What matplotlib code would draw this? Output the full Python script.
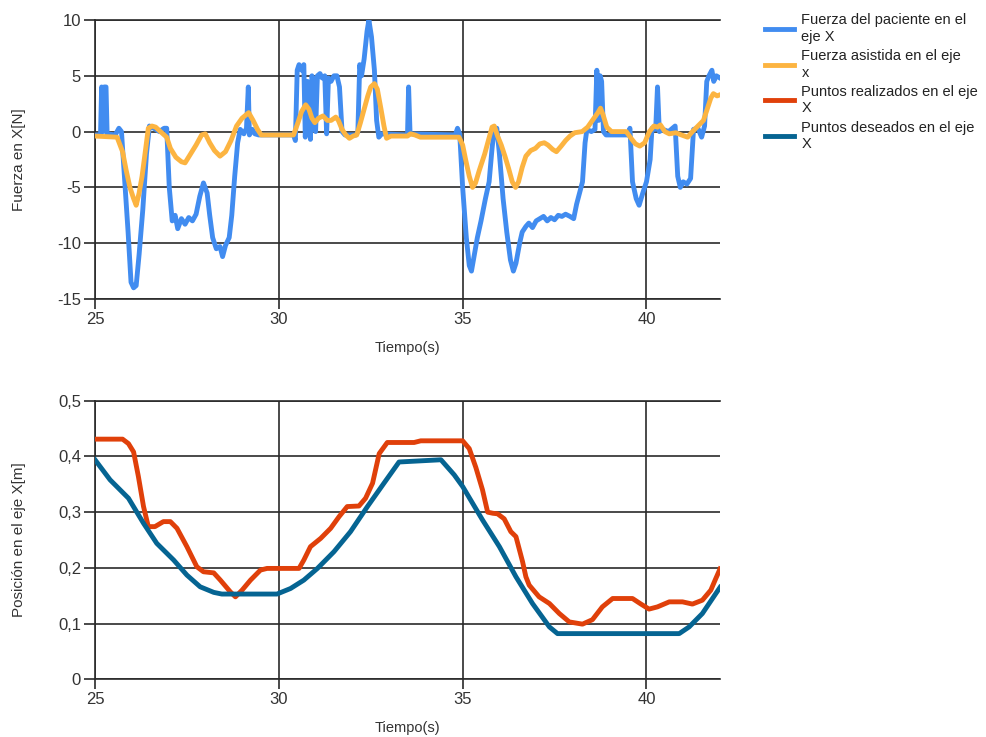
import matplotlib
matplotlib.use("Agg")
import matplotlib.pyplot as plt
from matplotlib.ticker import FixedLocator, FixedFormatter

plt.rcParams["font.family"] = ["Liberation Sans", "DejaVu Sans"]

# --- data ---
t_paciente = [
    25.00, 25.15, 25.18, 25.22, 25.25, 25.30, 25.33, 25.55, 25.65, 25.72,
    25.80, 25.90, 25.98, 26.05, 26.12, 26.20, 26.30, 26.40, 26.48, 26.60,
    26.75, 26.88, 26.95, 27.02, 27.10, 27.18, 27.25, 27.35, 27.45, 27.55,
    27.65, 27.75, 27.85, 27.95, 28.05, 28.12, 28.20, 28.30, 28.40, 28.47,
    28.55, 28.65, 28.72, 28.80, 28.88, 28.95, 29.05, 29.12, 29.17, 29.20,
    29.28, 29.35, 29.45, 30.40, 30.45, 30.50, 30.55, 30.62, 30.68, 30.72,
    30.78, 30.82, 30.86, 30.90, 30.95, 31.00, 31.05, 31.12, 31.18, 31.25,
    31.30, 31.35, 31.42, 31.50, 31.58, 31.65, 31.72, 31.80, 32.10, 32.15,
    32.20, 32.25, 32.32, 32.40, 32.45, 32.52, 32.60, 32.66, 32.72, 32.80,
    33.50, 33.53, 33.57, 34.80, 34.86, 34.92, 35.00, 35.10, 35.18, 35.24,
    35.32, 35.40, 35.50, 35.62, 35.72, 35.80, 35.86, 35.93, 36.00, 36.10,
    36.20, 36.30, 36.38, 36.45, 36.55, 36.62, 36.72, 36.80, 36.90, 37.00,
    37.10, 37.20, 37.30, 37.40, 37.50, 37.60, 37.70, 37.80, 37.92, 38.02,
    38.10, 38.18, 38.26, 38.33, 38.38, 38.50, 38.60, 38.65, 38.70, 38.74,
    38.78, 38.83, 38.90, 39.50, 39.55, 39.62, 39.72, 39.80, 39.90, 40.00,
    40.10, 40.15, 40.25, 40.30, 40.35, 40.45, 40.60, 40.78, 40.85, 40.92,
    41.00, 41.10, 41.20, 41.28, 41.40, 41.50, 41.58, 41.64, 41.70, 41.78,
    41.83, 41.90, 42.00,
]
f_paciente = [
    -0.3, -0.3, 4.0, 0.0, 4.0, 4.0, -0.2, -0.3, 0.3, 0.0,
    -4.0, -9.0, -13.5, -14.0, -13.8, -11.0, -7.0, -2.0, 0.5, 0.3,
    0.0, 0.3, 0.3, -5.0, -8.0, -7.5, -8.7, -7.8, -8.3, -7.7,
    -8.0, -7.4, -5.8, -4.6, -5.5, -7.5, -9.5, -10.5, -10.3, -11.2,
    -10.2, -9.5, -7.5, -4.0, -1.0, 0.2, -0.2, 0.3, 4.0, -0.3,
    0.2, -0.2, -0.3, -0.3, -0.8, 5.5, 6.0, 5.5, 6.0, -0.5,
    4.5, 3.0, -0.7, 5.0, 4.5, 0.0, 5.0, 5.2, 4.8, 5.0,
    -0.2, 4.8, 4.5, 5.0, 5.0, 4.0, 0.0, -0.3, -0.3, 0.0,
    6.0, 5.0, 6.5, 9.0, 10.0, 8.5, 5.5, 1.0, -0.5, -0.2,
    -0.3, 4.0, -0.2, -0.3, 0.3, -0.2, -5.0, -9.5, -12.0, -12.5,
    -11.0, -9.5, -8.0, -6.0, -4.5, -1.5, 0.3, 0.3, -2.0, -6.0,
    -9.0, -11.5, -12.5, -11.8, -10.0, -9.0, -8.5, -8.2, -8.6, -8.0,
    -7.8, -7.6, -8.0, -7.7, -7.9, -7.5, -7.6, -7.4, -7.6, -7.8,
    -6.5, -5.5, -4.5, -1.0, 0.2, 0.0, 0.2, 5.5, 1.0, 5.0,
    4.5, 0.0, -0.3, -0.3, 0.3, -4.5, -6.0, -6.6, -5.5, -4.5,
    -2.5, 0.3, 0.2, 4.0, 0.0, 0.2, 0.0, 0.5, -4.0, -5.0,
    -4.5, -4.7, -4.2, 0.2, 0.3, -0.5, 0.5, 4.5, 5.0, 5.5,
    4.5, 5.0, 4.8,
]

t_asistida = [
    25.00, 25.60, 25.75, 25.85, 25.95, 26.05, 26.12, 26.20, 26.28, 26.38,
    26.45, 26.55, 26.65, 26.78, 26.95, 27.05, 27.20, 27.35, 27.45, 27.60,
    27.75, 27.90, 28.00, 28.12, 28.25, 28.40, 28.55, 28.70, 28.85, 29.00,
    29.18, 29.30, 29.42, 29.52, 30.40, 30.52, 30.62, 30.73, 30.82, 30.90,
    30.98, 31.08, 31.20, 31.32, 31.42, 31.55, 31.62, 31.72, 31.82, 31.92,
    32.02, 32.12, 32.22, 32.32, 32.42, 32.50, 32.60, 32.68, 32.78, 32.86,
    32.93, 33.05, 33.50, 33.58, 33.70, 33.85, 34.90, 35.00, 35.08, 35.18,
    35.27, 35.35, 35.45, 35.60, 35.70, 35.80, 35.86, 35.95, 36.05, 36.15,
    36.25, 36.35, 36.44, 36.52, 36.62, 36.72, 36.85, 36.98, 37.10, 37.22,
    37.32, 37.45, 37.55, 37.68, 37.80, 37.92, 38.05, 38.25, 38.40, 38.55,
    38.68, 38.75, 38.82, 38.92, 39.05, 39.45, 39.58, 39.70, 39.82, 39.95,
    40.08, 40.20, 40.30, 40.38, 40.50, 40.62, 40.80, 40.95, 41.12, 41.25,
    41.40, 41.55, 41.65, 41.75, 41.82, 41.92, 42.00,
]
f_asistida = [
    -0.4, -0.5, -1.8, -3.5, -5.0, -6.0, -6.6, -5.5, -4.0, -1.5,
    0.3, 0.5, 0.4, 0.0, -0.5, -1.5, -2.3, -2.7, -2.8, -2.0,
    -1.2, -0.3, -0.2, -1.0, -1.7, -2.2, -1.8, -0.8, 0.5, 1.2,
    1.7, 1.0, 0.2, -0.3, -0.3, 0.8, 1.8, 2.4, 2.0, 1.2,
    0.8, 1.2, 1.4, 1.0, 1.0, 1.3, 1.0, 0.2, -0.3, -0.6,
    -0.4, -0.3, 0.8, 2.0, 3.2, 4.0, 4.3, 3.8, 2.0, 0.5,
    -0.6, -0.4, -0.4, -0.2, -0.3, -0.5, -0.5, -1.2, -2.5, -4.0,
    -5.0, -4.6, -3.5, -2.0, -0.8, 0.4, 0.5, -0.4, -1.2, -2.2,
    -3.3, -4.5, -5.0, -4.5, -3.2, -2.2, -1.7, -1.5, -1.1, -1.0,
    -1.2, -1.6, -1.8, -1.3, -0.8, -0.4, -0.1, 0.0, 0.4, 1.1,
    1.7, 2.1, 1.5, 0.4, 0.0, 0.0, -0.6, -1.1, -1.3, -1.0,
    0.0, 0.5, 0.4, 0.6, 0.0, -0.2, -0.1, -0.3, -0.5, 0.0,
    0.5, 1.0, 2.0, 3.0, 3.4, 3.2, 3.3,
]

t_realizados = [
    25.00, 25.75, 25.91, 26.05, 26.18, 26.32, 26.45, 26.63, 26.86, 27.05,
    27.23, 27.50, 27.77, 27.95, 28.23, 28.41, 28.68, 28.82, 29.00, 29.23,
    29.50, 29.68, 30.55, 30.68, 30.86, 31.14, 31.41, 31.64, 31.86, 32.18,
    32.36, 32.55, 32.73, 32.95, 33.68, 33.86, 34.90, 35.00, 35.18, 35.36,
    35.54, 35.68, 35.82, 35.95, 36.13, 36.31, 36.45, 36.63, 36.72, 36.81,
    37.08, 37.36, 37.63, 37.90, 38.26, 38.53, 38.80, 39.08, 39.62, 39.85,
    40.07, 40.30, 40.62, 40.98, 41.25, 41.52, 41.75, 41.88, 42.00,
]
x_realizados = [
    0.431, 0.431, 0.423, 0.408, 0.364, 0.310, 0.274, 0.274, 0.283, 0.283,
    0.271, 0.238, 0.202, 0.193, 0.191, 0.178, 0.157, 0.148, 0.160, 0.178,
    0.196, 0.199, 0.199, 0.214, 0.238, 0.253, 0.271, 0.292, 0.310, 0.311,
    0.325, 0.352, 0.405, 0.425, 0.425, 0.428, 0.428, 0.428, 0.414, 0.380,
    0.340, 0.300, 0.298, 0.297, 0.288, 0.265, 0.256, 0.211, 0.184, 0.169,
    0.148, 0.136, 0.118, 0.103, 0.099, 0.107, 0.130, 0.145, 0.145, 0.135,
    0.126, 0.130, 0.139, 0.139, 0.135, 0.142, 0.160, 0.180, 0.198,
]

t_deseados = [
    25.00, 25.41, 25.91, 26.32, 26.68, 27.14, 27.50, 27.86, 28.23, 28.45,
    29.95, 30.32, 30.68, 31.05, 31.50, 31.95, 32.41, 32.86, 33.27, 34.41,
    34.77, 35.00, 35.54, 36.00, 36.45, 36.90, 37.36, 37.58, 40.89, 41.16,
    41.52, 42.00,
]
x_deseados = [
    0.394, 0.358, 0.325, 0.280, 0.244, 0.214, 0.187, 0.166, 0.156, 0.153,
    0.153, 0.163, 0.178, 0.199, 0.229, 0.265, 0.310, 0.352, 0.390, 0.394,
    0.367, 0.346, 0.286, 0.238, 0.184, 0.136, 0.094, 0.082, 0.082, 0.094,
    0.118, 0.165,
]

x_ticks = [25, 30, 35, 40]
x_ticklabels = ["25", "30", "35", "40"]
fuerza_ticks = [-15, -10, -5, 0, 5, 10]
fuerza_ticklabels = ["-15", "-10", "-5", "0", "5", "10"]
pos_ticks = [0, 0.1, 0.2, 0.3, 0.4, 0.5]
pos_ticklabels = ["0", "0,1", "0,2", "0,3", "0,4", "0,5"]

labels = [
    "Fuerza del paciente en el\neje X",
    "Fuerza asistida en el eje\nx",
    "Puntos realizados en el eje\nX",
    "Puntos deseados en el eje\nX",
]
colors = ["#418CF0", "#FCB441", "#E0400A", "#056492"]

# --- figure ---
W, H = 987, 737
fig = plt.figure(figsize=(W / 100, H / 100), dpi=100)
ax_f = fig.add_axes([95 / W, 1 - 299 / H, 625 / W, 279 / H])
ax_p = fig.add_axes([95 / W, 1 - 679.3 / H, 625 / W, 278.6 / H])

GRID = "#2a2a2a"
TXT = "#333333"


def style(ax, yticks, yticklabels, ylabel):
    ax.set_xlim(25, 42)
    ax.xaxis.set_major_locator(FixedLocator(x_ticks))
    ax.xaxis.set_major_formatter(FixedFormatter(x_ticklabels))
    ax.yaxis.set_major_locator(FixedLocator(yticks))
    ax.yaxis.set_major_formatter(FixedFormatter(yticklabels))
    ax.grid(True, color=GRID, linewidth=1.2, zorder=0)
    ax.set_axisbelow(True)
    ax.spines["right"].set_visible(False)
    for s in ["left", "bottom", "top"]:
        ax.spines[s].set_color(GRID)
        ax.spines[s].set_linewidth(1.2)
    ax.tick_params(axis="y", length=8, width=1.2, color=GRID, pad=2,
                   labelsize=12, labelcolor=TXT)
    ax.tick_params(axis="x", length=7, width=1.2, color=GRID, pad=2,
                   labelsize=12, labelcolor=TXT)
    ax.set_xlabel("Tiempo(s)", fontsize=10.5, color=TXT, va="center")
    ax.xaxis.set_label_coords(0.5, -49 / 279)
    ax.set_ylabel(ylabel, fontsize=11, color=TXT, va="center")
    ax.yaxis.set_label_coords(-76 / 625, 0.5)


l1, = ax_f.plot(t_paciente, f_paciente, color=colors[0], lw=3.5,
                solid_joinstyle="round", zorder=3)
l2, = ax_f.plot(t_asistida, f_asistida, color=colors[1], lw=3.5,
                solid_joinstyle="round", zorder=4)
ax_f.set_ylim(-15, 10)
style(ax_f, fuerza_ticks, fuerza_ticklabels, "Fuerza en X[N]")

l3, = ax_p.plot(t_realizados, x_realizados, color=colors[2], lw=3.5,
                solid_joinstyle="round", zorder=3)
l4, = ax_p.plot(t_deseados, x_deseados, color=colors[3], lw=3.5,
                solid_joinstyle="round", zorder=4)
ax_p.set_ylim(0, 0.5)
style(ax_p, pos_ticks, pos_ticklabels, "Posición en el eje X[m]")

leg = fig.legend([l1, l2, l3, l4], labels, loc="upper left",
                 bbox_to_anchor=(765 / W, 1 - 13 / H), frameon=False,
                 borderpad=0, borderaxespad=0, handlelength=2.0,
                 handletextpad=0.5, labelspacing=0.35, fontsize=10.5)
for t in leg.get_texts():
    t.set_color("#222222")
    t.set_linespacing(1.25)

fig.savefig("out.png", dpi=100, facecolor="white")
